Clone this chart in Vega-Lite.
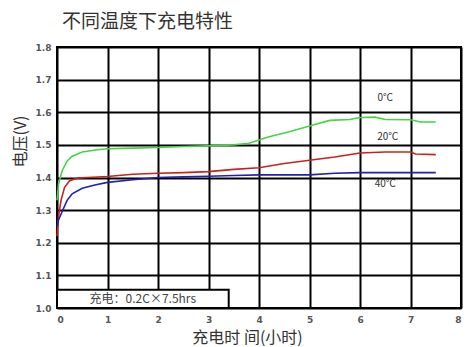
{
  "$schema": "https://vega.github.io/schema/vega-lite/v6.json",
  "autosize": "none",
  "width": 404,
  "height": 261,
  "padding": {"left": 57, "top": 47, "right": 9, "bottom": 39},
  "background": "white",
  "title": {
    "text": "不同温度下充电特性",
    "anchor": "start",
    "frame": "group",
    "dx": 5,
    "offset": 11,
    "font": "Noto Sans CJK SC",
    "fontSize": 19,
    "fontWeight": "normal",
    "color": "#333333"
  },
  "config": {
    "view": {"stroke": "#000000", "strokeWidth": 2},
    "axis": {
      "domain": false,
      "ticks": false,
      "grid": true,
      "gridColor": "#000000",
      "gridWidth": 2,
      "gridOpacity": 1,
      "labelOverlap": false,
      "labelFont": "DejaVu Sans",
      "labelFontSize": 9,
      "labelFontWeight": "bold",
      "labelColor": "#555555",
      "titleFont": "Noto Sans CJK SC",
      "titleFontSize": 16,
      "titleFontWeight": "normal",
      "titleColor": "#333333"
    }
  },
  "datasets": {
    "curves": [
      {"series": "0℃", "t": 0, "v": 1.33},
      {"series": "0℃", "t": 0.03, "v": 1.38},
      {"series": "0℃", "t": 0.1, "v": 1.42},
      {"series": "0℃", "t": 0.2, "v": 1.45},
      {"series": "0℃", "t": 0.3, "v": 1.465},
      {"series": "0℃", "t": 0.5, "v": 1.478},
      {"series": "0℃", "t": 0.8, "v": 1.485},
      {"series": "0℃", "t": 1, "v": 1.488},
      {"series": "0℃", "t": 1.5, "v": 1.49},
      {"series": "0℃", "t": 2, "v": 1.492},
      {"series": "0℃", "t": 2.5, "v": 1.495},
      {"series": "0℃", "t": 3, "v": 1.497},
      {"series": "0℃", "t": 3.5, "v": 1.5},
      {"series": "0℃", "t": 3.8, "v": 1.505},
      {"series": "0℃", "t": 4.2, "v": 1.525},
      {"series": "0℃", "t": 4.6, "v": 1.54},
      {"series": "0℃", "t": 5, "v": 1.558},
      {"series": "0℃", "t": 5.4, "v": 1.575},
      {"series": "0℃", "t": 5.8, "v": 1.578},
      {"series": "0℃", "t": 6, "v": 1.584},
      {"series": "0℃", "t": 6.3, "v": 1.585},
      {"series": "0℃", "t": 6.5, "v": 1.578},
      {"series": "0℃", "t": 7, "v": 1.577},
      {"series": "0℃", "t": 7.2, "v": 1.57},
      {"series": "0℃", "t": 7.5, "v": 1.57},
      {"series": "20℃", "t": 0, "v": 1.22},
      {"series": "20℃", "t": 0.03, "v": 1.28},
      {"series": "20℃", "t": 0.08, "v": 1.33},
      {"series": "20℃", "t": 0.15, "v": 1.37},
      {"series": "20℃", "t": 0.25, "v": 1.39},
      {"series": "20℃", "t": 0.4, "v": 1.398},
      {"series": "20℃", "t": 0.6, "v": 1.4},
      {"series": "20℃", "t": 1, "v": 1.403},
      {"series": "20℃", "t": 1.5, "v": 1.41},
      {"series": "20℃", "t": 2, "v": 1.413},
      {"series": "20℃", "t": 2.5, "v": 1.415},
      {"series": "20℃", "t": 3, "v": 1.418},
      {"series": "20℃", "t": 3.5, "v": 1.425},
      {"series": "20℃", "t": 4, "v": 1.43},
      {"series": "20℃", "t": 4.5, "v": 1.443},
      {"series": "20℃", "t": 5, "v": 1.453},
      {"series": "20℃", "t": 5.5, "v": 1.463},
      {"series": "20℃", "t": 6, "v": 1.475},
      {"series": "20℃", "t": 6.5, "v": 1.478},
      {"series": "20℃", "t": 7, "v": 1.478},
      {"series": "20℃", "t": 7.1, "v": 1.472},
      {"series": "20℃", "t": 7.5, "v": 1.47},
      {"series": "40℃", "t": 0, "v": 1.25},
      {"series": "40℃", "t": 0.03, "v": 1.27},
      {"series": "40℃", "t": 0.1, "v": 1.295},
      {"series": "40℃", "t": 0.2, "v": 1.33},
      {"series": "40℃", "t": 0.3, "v": 1.35},
      {"series": "40℃", "t": 0.5, "v": 1.367},
      {"series": "40℃", "t": 0.75, "v": 1.377},
      {"series": "40℃", "t": 1, "v": 1.385},
      {"series": "40℃", "t": 1.5, "v": 1.393},
      {"series": "40℃", "t": 2, "v": 1.4},
      {"series": "40℃", "t": 2.5, "v": 1.402},
      {"series": "40℃", "t": 3, "v": 1.404},
      {"series": "40℃", "t": 3.5, "v": 1.406},
      {"series": "40℃", "t": 4, "v": 1.408},
      {"series": "40℃", "t": 5, "v": 1.408},
      {"series": "40℃", "t": 5.5, "v": 1.413},
      {"series": "40℃", "t": 6, "v": 1.415},
      {"series": "40℃", "t": 7, "v": 1.415},
      {"series": "40℃", "t": 7.5, "v": 1.415}
    ],
    "labels": [
      {"label": "0℃", "t": 6.5, "v": 1.645},
      {"label": "20℃", "t": 6.55, "v": 1.525},
      {"label": "40℃", "t": 6.5, "v": 1.38}
    ],
    "notebox": [
      {"t": 0, "t1": 3.4, "v": 1.0, "v1": 1.056}
    ],
    "notetext": [
      {"label": "充电：0.2C×7.5hrs", "t": 1.7, "v": 1.028}
    ]
  },
  "encoding": {
    "x": {
      "field": "t", "type": "quantitative",
      "scale": {"domain": [0, 8], "nice": false},
      "axis": {
        "values": [0, 1, 2, 3, 4, 5, 6, 7, 8],
        "format": "d",
        "labelPadding": 7,
        "title": "充电时 间(小时)",
        "titleX": 190,
        "titleY": 29,
        "titleBaseline": "middle"
      }
    },
    "y": {
      "field": "v", "type": "quantitative",
      "scale": {"domain": [1.0, 1.8], "nice": false, "zero": false},
      "axis": {
        "values": [1.0, 1.1, 1.2, 1.3, 1.4, 1.5, 1.6, 1.7, 1.8],
        "format": ".1f",
        "labelPadding": 6,
        "title": "电压(V)",
        "titleX": -37,
        "titleY": 94,
        "titleAngle": -90,
        "titleAlign": "center",
        "titleBaseline": "middle"
      }
    }
  },
  "layer": [
    {
      "data": {"name": "curves"},
      "mark": {"type": "line", "strokeWidth": 1.6, "interpolate": "linear"},
      "encoding": {
        "color": {
          "field": "series", "type": "nominal",
          "scale": {"domain": ["0℃", "20℃", "40℃"], "range": ["#44d444", "#cc2020", "#2020b4"]},
          "legend": null
        }
      }
    },
    {
      "data": {"name": "labels"},
      "mark": {"type": "text", "font": "Noto Sans CJK SC", "fontSize": 10, "color": "#333333"},
      "encoding": {
        "text": {"field": "label"}
      }
    },
    {
      "data": {"name": "notebox"},
      "mark": {"type": "rect", "fill": "white", "stroke": "#000000", "strokeWidth": 2},
      "encoding": {
        "x2": {"field": "t1"},
        "y2": {"field": "v1"}
      }
    },
    {
      "data": {"name": "notetext"},
      "mark": {"type": "text", "font": "Noto Sans CJK SC", "fontSize": 12, "color": "#444444"},
      "encoding": {
        "text": {"field": "label"}
      }
    }
  ]
}
